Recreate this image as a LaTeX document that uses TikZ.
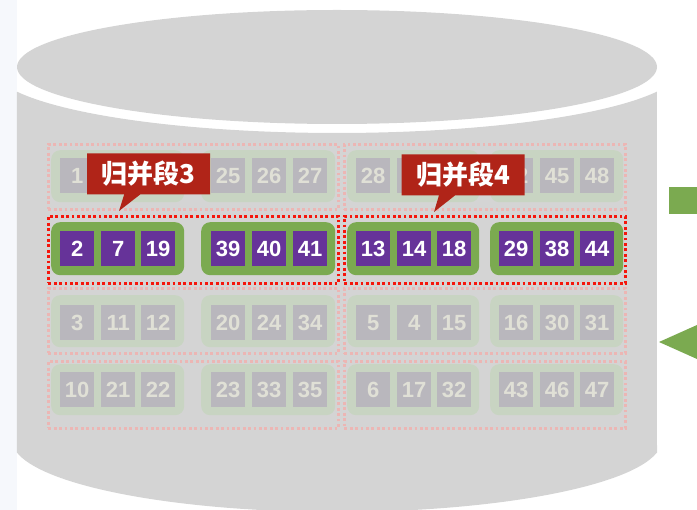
\documentclass[tikz,border=0pt]{standalone}
\usepackage{fontspec}
\setmainfont{Liberation Sans}
\newfontfamily\cjk{Noto Sans CJK SC}
\usetikzlibrary{shapes.callouts}
\definecolor{cylc}{HTML}{D4D4D4}
\definecolor{stripc}{HTML}{F6F8FC}
\definecolor{greenc}{HTML}{7BAA50}
\definecolor{purplec}{HTML}{663399}
\definecolor{labelc}{HTML}{B02418}
\definecolor{dotc}{HTML}{F5160C}
\definecolor{fgreenc}{HTML}{C8D4C2}
\definecolor{fsqc}{HTML}{B9B7BD}
\definecolor{ftxtc}{HTML}{E0E0D6}
\definecolor{fdotc}{HTML}{ECB6B4}
\begin{document}
\begin{tikzpicture}[x=1pt,y=-1pt,
  sqbox/.style={minimum width=34pt,minimum height=35pt,inner sep=0pt,anchor=north west,
    font=\bfseries\fontsize{22}{22}\selectfont},
  hsq/.style={sqbox,fill=purplec,text=white},
  fsq/.style={sqbox,fill=fsqc,text=ftxtc},
  grp/.style={anchor=north west,inner sep=0pt,rounded corners=9pt},
  hgrp/.style={grp,fill=greenc},
  fgrp/.style={grp,fill=fgreenc},
  dbox/.style={anchor=north west,inner sep=0pt,line width=2.8pt,dash pattern=on 2.8pt off 2.6pt},
  hdbox/.style={dbox,draw=dotc},
  fdbox/.style={dbox,draw=fdotc},
  seglabel/.style={rectangle callout,fill=labelc,text=white,minimum width=123pt,minimum height=41pt,
    inner sep=0pt,callout pointer width=16pt,font=\cjk\bfseries\fontsize{26}{26}\selectfont}]
\useasboundingbox (0,0) rectangle (697,510);
% background strip and cylinder
\fill[stripc] (0,0) rectangle (17,510);
\fill[cylc] (17,91.7) arc[start angle=158,end angle=22,x radius=345,y radius=66]
  -- (657,452.5) arc[start angle=10,end angle=170,x radius=325,y radius=72] -- cycle;
\fill[cylc] (337,67) ellipse[x radius=320,y radius=57];
% right side marks
\fill[greenc] (669,187) rectangle (697,214);
\fill[greenc] (659,342) -- (697,325) -- (697,359) -- cycle;
% rows
\def\rowsq{{158,231,305,372}}
\def\rowgt{{150,222,295,364}}
\def\rowgb{{202,275,347,415}}
\def\rowdt{{143,215,287,360}}
\def\rowdb{{208,282,352,427}}
\def\grpl{{51,201,347,490}}
\def\grpr{{184,335,479,623}}
\def\sqx{{60,101,141,211,252,293,356,397,437,499,540,580}}
\foreach \r/\st/\nums in {1/f/{1,{},{},25,26,27,28,{},{},\hphantom{4}2,45,48},
                          2/h/{2,7,19,39,40,41,13,14,18,29,38,44},
                          3/f/{3,11,12,20,24,34,5,4,15,16,30,31},
                          4/f/{10,21,22,23,33,35,6,17,32,43,46,47}}{
  \pgfmathsetmacro\dt{\rowdt[\r-1]}
  \pgfmathsetmacro\db{\rowdb[\r-1]}
  \pgfmathsetmacro\gt{\rowgt[\r-1]}
  \pgfmathsetmacro\gb{\rowgb[\r-1]}
  \pgfmathsetmacro\sy{\rowsq[\r-1]}
  \node[\st dbox,minimum width=290pt,minimum height={\db-\dt}] (d\r-1) at (47,\dt) {};
  \node[\st dbox,minimum width=281pt,minimum height={\db-\dt}] (d\r-2) at (343,\dt) {};
  \foreach \g in {1,...,4}{
    \pgfmathsetmacro\gl{\grpl[\g-1]}
    \pgfmathsetmacro\gr{\grpr[\g-1]}
    \node[\st grp,minimum width={\gr-\gl},minimum height={\gb-\gt}] (g\r-\g) at (\gl,\gt) {};
  }
  \foreach \n [count=\i] in \nums {
    \pgfmathsetmacro\xx{\sqx[\i-1]}
    \node[\st sq] (s\r-\i) at (\xx,\sy) {\n};
  }
}
% labels
\node[seglabel,callout absolute pointer={(119,211)}] (lab3) at (148.5,174) {归并段3};
\node[seglabel,callout absolute pointer={(434,212)}] (lab4) at (463,175) {归并段4};
\end{tikzpicture}
\end{document}
